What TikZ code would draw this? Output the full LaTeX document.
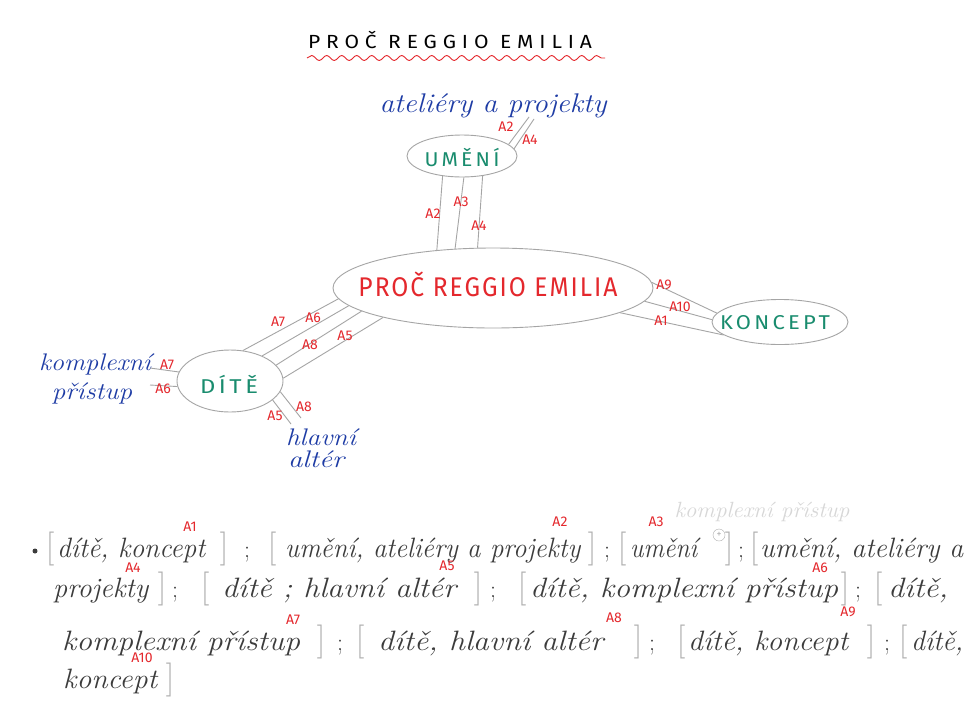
\documentclass[tikz,border=0pt]{standalone}
\usepackage{fontspec}
\setsansfont{Fira Sans}
\usetikzlibrary{shapes.geometric,decorations.pathmorphing}
\definecolor{penred}{RGB}{228,40,45}
\definecolor{pengreen}{RGB}{25,140,110}
\definecolor{penblue}{RGB}{30,60,165}
\definecolor{pengray}{RGB}{165,165,165}
\definecolor{inkgray}{RGB}{60,60,60}
\definecolor{brkgray}{RGB}{175,175,175}
\definecolor{faint}{RGB}{215,215,215}
\newcommand{\fw}[2]{\resizebox{#1pt}{\height}{#2}}
\begin{document}
\begin{tikzpicture}[x=1pt,y=-1pt,
  bubble/.style={ellipse, draw=pengray, line width=0.9pt, inner sep=0pt},
  captxt/.style={text=pengreen, font=\sffamily\fontsize{20}{20}\selectfont\addfontfeatures{LetterSpace=15}, inner sep=0pt},
  link/.style={draw=pengray, line width=0.9pt},
  tag/.style={text=penred, font=\sffamily\fontsize{14}{14}\selectfont, inner sep=0pt},
  cursive/.style={text=penblue, font=\rmfamily\itshape\fontsize{27}{27}\selectfont, inner sep=0pt},
  smallcursive/.style={text=penblue, font=\rmfamily\itshape\fontsize{24}{24}\selectfont, inner sep=0pt},
  hand/.style={text=inkgray, font=\rmfamily\itshape\fontsize{28}{28}\selectfont, inner sep=0pt, anchor=base west},
  brk/.style={text=brkgray, font=\rmfamily\fontsize{34}{34}\selectfont, inner sep=0pt, anchor=base},
  semi/.style={text=inkgray, font=\rmfamily\fontsize{24}{24}\selectfont, inner sep=0pt, anchor=base},
  ]
\useasboundingbox (0,0) rectangle (968,718);
\fill[white] (0,0) rectangle (968,718);

% title
\node[font=\sffamily\fontsize{19}{19}\selectfont\addfontfeatures{LetterSpace=28}, inner sep=0pt] (title) at (450,40) {\fw{284}{PROČ REGGIO EMILIA}};
\coordinate (wl) at (307,58);
\coordinate (wr) at (605,58);
\draw[penred, line width=0.9pt, decorate, decoration={snake, amplitude=2.5pt, segment length=15pt}] (wl) -- (wr);

% bubbles
\node[bubble, minimum width=320pt, minimum height=80pt] (hub) at (493,288) {};
\node[text=penred, font=\sffamily\fontsize{27}{27}\selectfont\addfontfeatures{LetterSpace=8}, inner sep=0pt] (hubt) at (488,284) {\fw{259}{PROČ REGGIO EMILIA}};
\node[bubble, minimum width=110pt, minimum height=42pt] (umeni) at (462,156) {};
\node[captxt] (umenit) at (462,158) {\fw{75}{UMĚNÍ}};
\node[bubble, minimum width=136pt, minimum height=45pt] (koncept) at (780,322) {};
\node[captxt] (konceptt) at (775,323) {\fw{110}{KONCEPT}};
\node[bubble, minimum width=106pt, minimum height=62pt] (dite) at (230,381) {};
\node[captxt] (ditet) at (229,384) {\fw{58}{DÍTĚ}};

% blue labels
\node[cursive] (atel) at (493,106) {\fw{227}{ateliéry a projekty}};
\node[smallcursive] (kompl) at (95,364) {\fw{112}{komplexní}};
\node[smallcursive] (prist) at (92,393) {\fw{80}{přístup}};
\node[smallcursive] (hlav) at (321,437) {\fw{70}{hlavní}};
\node[smallcursive] (alter) at (316,459) {\fw{56}{altér}};

% connectors umeni - hub
\draw[link] (umeni.226) -- (hub.146);
\draw[link] (umeni.275) -- (hub.134);
\draw[link] (umeni.316) -- (hub.111);
\coordinate (u1) at (529,117);
\coordinate (u2) at (534,119);
\draw[link] (umeni.14) -- (u1);
\draw[link] (umeni.8) -- (u2);
% hub - koncept
\draw[link] (hub.2) -- (koncept.172);
\draw[link] (hub.-5) -- (koncept.178);
\draw[link] (hub.-11) -- (koncept.193);
% hub - dite
\draw[link] (dite.67) -- (hub.184);
\draw[link] (dite.38) -- (hub.187);
\draw[link] (dite.19) -- (hub.190);
\draw[link] (dite.3) -- (hub.195);
\coordinate (k1) at (150,368);
\coordinate (k2) at (150,385);
\draw[link] (dite.170) -- (k1);
\draw[link] (dite.186) -- (k2);
\coordinate (h1) at (291,424);
\coordinate (h2) at (301,418);
\draw[link] (dite.336) -- (h1);
\draw[link] (dite.348) -- (h2);

% tags on diagram
\node[tag] (tu2) at (433,214) {A2};
\node[tag] (tu3) at (461,202) {A3};
\node[tag] (tu4) at (479,226) {A4};
\node[tag] (ta2) at (506,127) {A2};
\node[tag] (ta4) at (530,140) {A4};
\node[tag] (tk9) at (664,285) {A9};
\node[tag] (tk10) at (680,307) {A10};
\node[tag] (tk1) at (661,321) {A1};
\node[tag] (td7) at (278,322) {A7};
\node[tag] (td6) at (313,318) {A6};
\node[tag] (td8) at (310,345) {A8};
\node[tag] (td5) at (345,336) {A5};
\node[tag] (tl7) at (167,365) {A7};
\node[tag] (tl6) at (163,389) {A6};
\node[tag] (tb5) at (275,416) {A5};
\node[tag] (tb8) at (304,407) {A8};

% bottom text
\node[circle, fill=inkgray, inner sep=0pt, minimum size=5pt] (bul) at (35,551) {};
\node[text=faint, font=\rmfamily\itshape\fontsize{22}{22}\selectfont, inner sep=0pt] (faintk) at (762,512) {\fw{175}{komplexní přístup}};
% line 1
\node[brk] (b1a) at (50,557) {[};
\node[hand] (s1a) at (57,557) {\fw{148}{dítě, koncept}};
\node[tag] (r1) at (190,527) {A1};
\node[brk] (b1b) at (224,557) {]};
\node[semi] (c1a) at (247,557) {;};
\node[brk] (b1c) at (272,557) {[};
\node[hand] (s1b) at (285,557) {\fw{295}{umění, ateliéry a projekty}};
\node[tag] (r2) at (560,522) {A2};
\node[brk] (b1d) at (592,557) {]};
\node[semi] (c1b) at (607,557) {;};
\node[brk] (b1e) at (622,557) {[};
\node[hand] (s1c) at (630,557) {\fw{67}{umění}};
\node[circle, draw=brkgray, text=brkgray, inner sep=0pt, minimum size=12pt, font=\sffamily\fontsize{10}{10}\selectfont] (plus) at (719,535) {+};
\node[tag] (r3) at (656,522) {A3};
\node[brk] (b1f) at (729,557) {]};
\node[semi] (c1c) at (741,557) {;};
\node[brk] (b1g) at (754,557) {[};
\node[hand] (s1d) at (760,557) {\fw{203}{umění, ateliéry a}};
% line 2
\node[hand] (s2a) at (53,597) {\fw{95}{projekty}};
\node[tag] (r4) at (133,568) {A4};
\node[brk] (b2a) at (162,597) {]};
\node[semi] (c2a) at (175,597) {;};
\node[brk] (b2b) at (205,597) {[};
\node[hand] (s2b) at (222,597) {\fw{234}{dítě ; hlavní altér}};
\node[tag] (r5) at (447,566) {A5};
\node[brk] (b2c) at (478,597) {]};
\node[semi] (c2b) at (493,597) {;};
\node[brk] (b2d) at (522,597) {[};
\node[hand] (s2c) at (530,597) {\fw{308}{dítě, komplexní přístup}};
\node[tag] (r6) at (820,568) {A6};
\node[brk] (b2e) at (845,597) {]};
\node[semi] (c2c) at (858,597) {;};
\node[brk] (b2f) at (878,597) {[};
\node[hand] (s2d) at (888,597) {\fw{60}{dítě,}};
% line 3
\node[hand] (s3a) at (62,650) {\fw{238}{komplexní přístup}};
\node[tag] (r7) at (293,620) {A7};
\node[brk] (b3a) at (321,650) {]};
\node[semi] (c3a) at (340,650) {;};
\node[brk] (b3b) at (360,650) {[};
\node[hand] (s3b) at (378,650) {\fw{225}{dítě, hlavní altér}};
\node[tag] (r8) at (614,618) {A8};
\node[brk] (b3c) at (638,650) {]};
\node[semi] (c3b) at (652,650) {;};
\node[brk] (b3d) at (681,650) {[};
\node[hand] (s3c) at (688,650) {\fw{160}{dítě, koncept}};
\node[tag] (r9) at (848,612) {A9};
\node[brk] (b3e) at (871,650) {]};
\node[semi] (c3c) at (887,650) {;};
\node[brk] (b3f) at (903,650) {[};
\node[hand] (s3d) at (911,650) {\fw{52}{dítě,}};
% line 4
\node[hand] (s4a) at (63,688) {\fw{94}{koncept}};
\node[tag] (r10) at (142,658) {A10};
\node[brk] (b4a) at (170,688) {]};
\end{tikzpicture}
\end{document}
